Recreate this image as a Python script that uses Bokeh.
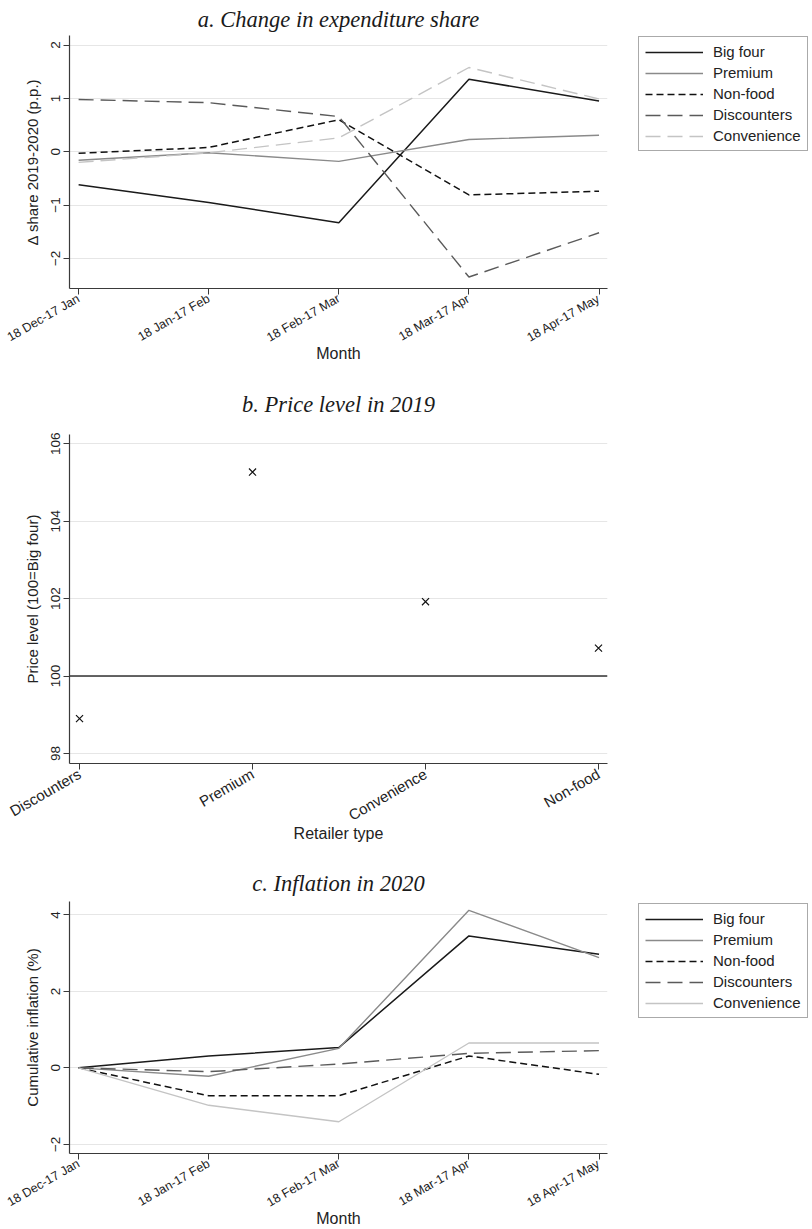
from math import pi
from bokeh.plotting import figure
from bokeh.models import Range1d, FixedTicker, Legend, LegendItem, Span
from bokeh.layouts import column
from bokeh.embed import file_html
from bokeh.resources import INLINE

# ---------------- data ----------------
months = ["18 Dec-17 Jan", "18 Jan-17 Feb", "18 Feb-17 Mar", "18 Mar-17 Apr", "18 Apr-17 May"]
series_names = ["Big four", "Premium", "Non-food", "Discounters", "Convenience"]

share_big_four = [-0.62, -0.95, -1.33, 1.36, 0.95]
share_premium = [-0.16, -0.02, -0.18, 0.23, 0.31]
share_non_food = [-0.03, 0.08, 0.60, -0.81, -0.74]
share_discounters = [0.98, 0.92, 0.66, -2.35, -1.52]
share_convenience = [-0.20, -0.02, 0.26, 1.58, 0.99]

retailer_types = ["Discounters", "Premium", "Convenience", "Non-food"]
price_level_2019 = [98.90, 105.27, 101.92, 100.72]
price_baseline = 100

infl_big_four = [0.0, 0.31, 0.53, 3.45, 2.97]
infl_premium = [0.0, -0.22, 0.51, 4.12, 2.88]
infl_non_food = [0.0, -0.73, -0.73, 0.31, -0.17]
infl_discounters = [0.0, -0.10, 0.10, 0.38, 0.45]
infl_convenience = [0.0, -0.98, -1.41, 0.65, 0.65]

ticks_a = [-2, -1, 0, 1, 2]
ticks_b = [98, 100, 102, 104, 106]
ticks_c = [-2, 0, 2, 4]

# ---------------- styles ----------------
SANS = "Liberation Sans"
SERIF = "Liberation Serif"
AX = "#3a3a3a"
TXT = "#222222"

style_a = {
    "Big four": dict(color="#1a1a1a", line_width=1.5, line_dash="solid"),
    "Premium": dict(color="#8a8a8a", line_width=1.4, line_dash="solid"),
    "Non-food": dict(color="#111111", line_width=1.5, line_dash="7 4"),
    "Discounters": dict(color="#5a5a5a", line_width=1.4, line_dash="15 7"),
    "Convenience": dict(color="#c4c4c4", line_width=1.4, line_dash="15 7"),
}
style_c = dict(style_a)
style_c["Convenience"] = dict(color="#c4c4c4", line_width=1.4, line_dash="solid")

FRAME_W = 538
LEFT = 69
RIGHT = 203


def base_fig(title, xr, yr, fh, title_standoff, bottom, xlabel, ylabel,
             yticks, xtick_font, xlabels):
    p = figure(frame_width=FRAME_W, frame_height=fh, x_range=xr, y_range=yr,
               output_backend="svg", toolbar_location=None,
               min_border_left=LEFT, min_border_right=RIGHT,
               min_border_top=0, min_border_bottom=bottom,
               background_fill_color="white", border_fill_color="white",
               outline_line_color=None)
    p.title.text = title
    p.title.text_font = SERIF
    p.title.text_font_style = "italic"
    p.title.text_font_size = "22.5px"
    p.title.text_color = "#1a1a1a"
    p.title.align = "center"
    p.title.standoff = title_standoff

    p.xgrid.visible = False
    p.ygrid.grid_line_color = "#e6e6e6"
    p.ygrid.grid_line_width = 1.2
    p.ygrid.ticker = FixedTicker(ticks=yticks)

    yax = p.yaxis[0]
    yax.ticker = FixedTicker(ticks=yticks)
    yax.major_label_orientation = "vertical"
    yax.major_label_text_font = SANS
    yax.major_label_text_font_size = "13.5px"
    yax.major_label_text_color = TXT
    yax.major_label_standoff = 3
    yax.axis_label = ylabel
    yax.axis_label_text_font = SANS
    yax.axis_label_text_font_style = "normal"
    yax.axis_label_text_font_size = "15px"
    yax.axis_label_text_color = TXT
    yax.axis_label_standoff = 8

    xax = p.xaxis[0]
    xax.ticker = FixedTicker(ticks=list(range(len(xlabels))))
    xax.major_label_overrides = {i: s for i, s in enumerate(xlabels)}
    xax.major_label_orientation = pi / 6
    xax.major_label_text_font = SANS
    xax.major_label_text_font_size = xtick_font
    xax.major_label_text_color = TXT
    xax.major_label_standoff = 3
    xax.axis_label = xlabel
    xax.axis_label_text_font = SANS
    xax.axis_label_text_font_style = "normal"
    xax.axis_label_text_font_size = "16px"
    xax.axis_label_text_color = TXT
    xax.axis_label_standoff = -9

    for ax in (xax, yax):
        ax.axis_line_color = AX
        ax.axis_line_width = 1.2
        ax.major_tick_line_color = AX
        ax.major_tick_line_width = 1
        ax.major_tick_out = 6
        ax.major_tick_in = 0
        ax.minor_tick_line_color = None
    return p


def add_lines(p, values, styles, legend_y):
    xs = list(range(len(months)))
    items = []
    for name, ys in zip(series_names, values):
        st = styles[name]
        r = p.line(xs, ys, line_color=st["color"], line_width=st["line_width"],
                   line_dash=st["line_dash"])
        items.append(LegendItem(label=name, renderers=[r]))
    lg = Legend(items=items, location=(31, legend_y))
    lg.label_text_font = SANS
    lg.label_text_font_size = "15px"
    lg.label_text_color = TXT
    lg.glyph_width = 58
    lg.glyph_height = 16
    lg.label_height = 16
    lg.label_standoff = 10
    lg.spacing = 4
    lg.padding = 6
    lg.margin = 0
    lg.border_line_color = "#555555"
    lg.border_line_width = 1
    lg.background_fill_color = "white"
    lg.background_fill_alpha = 1
    p.add_layout(lg, "right")


# ---------------- panel a ----------------
pa = base_fig("a. Change in expenditure share", Range1d(-0.07, 4.065), Range1d(-2.565, 2.18),
              253, 8, 83, "Month", "\u0394 share 2019-2020 (p.p.)",
              ticks_a, "12.5px", months)
add_lines(pa, [share_big_four, share_premium, share_non_food, share_discounters, share_convenience],
          style_a, 137)

# ---------------- panel b ----------------
pb = base_fig("b. Price level in 2019", Range1d(-0.058, 3.052), Range1d(97.74, 106.24),
              329, 36, 100, "Retailer type", "Price level (100=Big four)",
              ticks_b, "15px", retailer_types)
pb.add_layout(Span(location=price_baseline, dimension="width", line_color="#333333", line_width=1.6))
pb.scatter(list(range(len(retailer_types))), price_level_2019, marker="x", size=10,
           line_color="#111111", line_width=1.2)

# ---------------- panel c ----------------
pc = base_fig("c. Inflation in 2020", Range1d(-0.07, 4.065), Range1d(-2.24, 4.35),
              252, 11, 76, "Month", "Cumulative inflation (%)",
              ticks_c, "12.5px", months)
add_lines(pc, [infl_big_four, infl_premium, infl_non_food, infl_discounters, infl_convenience],
          style_c, 135)

layout = column(pa, pb, pc, spacing=0)
open("out.html", "w").write(file_html(layout, INLINE))
